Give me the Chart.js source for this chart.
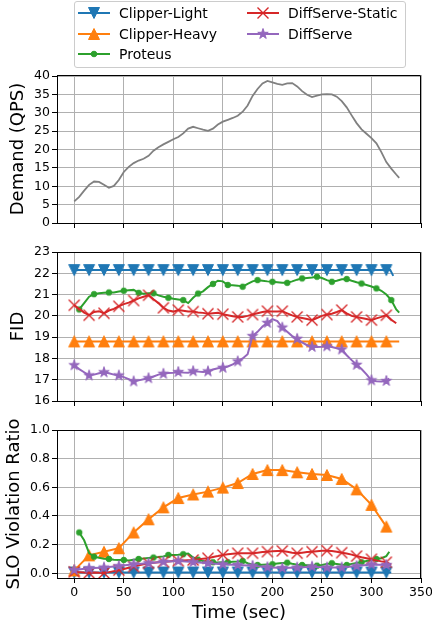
<!DOCTYPE html>
<html>
<head>
<meta charset="utf-8">
<script src="https://cdn.jsdelivr.net/npm/chart.js@4.4.1/dist/chart.umd.min.js"></script>
<style>
html, body { margin: 0; padding: 0; background: #fff; }
#wrap { position: relative; width: 432px; height: 626px; overflow: hidden; font-family: "DejaVu Sans", sans-serif; }
#wrap canvas.plot { position: absolute; left: 0; top: 0; }
#legend { position: absolute; left: 74px; top: 1px; width: 330px; height: 65px; border: 1px solid #cccccc; border-radius: 3px; background: #fff; }
.item { position: absolute; height: 20px; display: flex; align-items: center; font-size: 14px; color: #000; white-space: nowrap; }
.item canvas { margin-right: 9px; }
</style>
</head>
<body>
<div id="wrap">
  <canvas id="demand" class="plot" width="432" height="626"></canvas>
  <canvas id="fid" class="plot" width="432" height="626"></canvas>
  <canvas id="slo" class="plot" width="432" height="626"></canvas>
  <div id="legend"></div>
</div>
<script>
// ---- data ----
const timeTicks = [0, 50, 100, 150, 200, 250, 300, 350];

// top panel: demand
const demandTicks = [0, 5, 10, 15, 20, 25, 30, 35, 40];
const demandTime = [0, 5, 10, 15, 20, 25, 30, 35, 40, 45, 50, 55, 60, 65, 70, 75, 80, 85, 90, 95,
  100, 105, 110, 115, 120, 125, 130, 135, 140, 145, 150, 155, 160, 165, 170, 175, 180, 185, 190, 195,
  200, 205, 210, 215, 220, 225, 230, 235, 240, 245, 250, 255, 260, 265, 270, 275, 280, 285, 290, 295,
  300, 305, 310, 315, 320, 325, 328];
const demandQps = [5.9, 7.1, 8.8, 10.4, 11.3, 11.2, 10.4, 9.6, 10.1, 11.7, 13.9, 15.3, 16.3, 17.0, 17.5, 18.3, 19.7, 20.6, 21.4, 22.1,
  22.8, 23.4, 24.4, 25.7, 26.2, 25.8, 25.4, 25.1, 25.7, 26.8, 27.6, 28.1, 28.6, 29.2, 30.3, 32.0, 34.6, 36.5, 38.0, 38.7,
  38.3, 37.9, 37.6, 38.0, 38.1, 37.2, 35.9, 34.9, 34.3, 34.7, 35.0, 35.1, 35.0, 34.4, 33.2, 31.5, 29.3, 27.2, 25.5, 24.3,
  23.1, 21.7, 19.3, 16.6, 14.8, 13.2, 12.3];

// middle panel: FID
const fidTicks = [16, 17, 18, 19, 20, 21, 22, 23];
const lightFidTime = [0, 15, 30, 45, 60, 75, 90, 105, 120, 135, 150, 165, 180, 195, 210, 225, 240, 255, 270, 285, 300, 315, 319, 322];
const lightFid = [22.15, 22.15, 22.15, 22.15, 22.15, 22.15, 22.15, 22.15, 22.15, 22.15, 22.15, 22.15,
  22.15, 22.15, 22.15, 22.15, 22.15, 22.15, 22.15, 22.15, 22.15, 22.15, 22.15, 21.88];
const heavyFidTime = [0, 15, 30, 45, 60, 75, 90, 105, 120, 135, 150, 165, 180, 195, 210, 225, 240, 255, 270, 285, 300, 315, 328];
const heavyFid = [18.8, 18.8, 18.8, 18.8, 18.8, 18.8, 18.8, 18.8, 18.8, 18.8, 18.8, 18.8,
  18.8, 18.8, 18.8, 18.8, 18.8, 18.8, 18.8, 18.8, 18.8, 18.8, 18.8];
const proteusFidTime = [5, 10, 15, 20, 25, 30, 35, 40, 45, 50, 55, 60, 65, 70, 75, 80, 85, 90, 95, 100,
  105, 110, 115, 120, 125, 130, 135, 140, 145, 150, 155, 160, 165, 170, 175, 180, 185, 190, 195, 200,
  205, 210, 215, 220, 225, 230, 235, 240, 245, 250, 255, 260, 265, 270, 275, 280, 285, 290, 295, 300,
  305, 310, 315, 320, 325, 328];
const proteusFid = [20.30, 20.60, 20.90, 21.02, 21.06, 21.08, 21.10, 21.10, 21.14, 21.18, 21.20, 21.22, 21.08, 21.04, 21.06, 21.06, 20.96, 20.90, 20.85, 20.80,
  20.77, 20.74, 20.60, 20.85, 21.05, 21.15, 21.35, 21.50, 21.65, 21.62, 21.45, 21.44, 21.42, 21.37, 21.50, 21.62, 21.68, 21.65, 21.62, 21.60,
  21.58, 21.55, 21.55, 21.62, 21.70, 21.76, 21.78, 21.80, 21.84, 21.78, 21.68, 21.60, 21.65, 21.72, 21.73, 21.65, 21.58, 21.52, 21.45, 21.38,
  21.29, 21.18, 21.00, 20.74, 20.30, 20.15];
const staticFidTime = [0, 5, 10, 15, 20, 25, 30, 35, 40, 45, 50, 55, 60, 65, 70, 75, 80, 85, 90, 95,
  100, 105, 110, 115, 120, 125, 130, 135, 140, 145, 150, 155, 160, 165, 170, 175, 180, 185, 190, 195,
  200, 205, 210, 215, 220, 225, 230, 235, 240, 245, 250, 255, 260, 265, 270, 275, 280, 285, 290, 295,
  300, 305, 310, 315, 320, 325];
const staticFid = [20.50, 20.33, 20.15, 20.03, 20.18, 20.22, 20.12, 20.25, 20.33, 20.45, 20.55, 20.62, 20.72, 20.82, 20.90, 20.97, 20.78, 20.60, 20.38, 20.25,
  20.20, 20.27, 20.24, 20.20, 20.20, 20.16, 20.14, 20.10, 20.12, 20.14, 20.08, 20.03, 19.98, 19.95, 19.95, 20.00, 20.06, 20.12, 20.18, 20.22,
  20.20, 20.20, 20.22, 20.12, 20.02, 19.95, 19.90, 19.85, 19.80, 19.90, 20.00, 20.06, 20.10, 20.18, 20.27, 20.12, 20.00, 19.95, 19.90, 19.85,
  19.80, 19.88, 19.95, 20.03, 19.82, 19.65];
const diffFidTime = [0, 5, 10, 15, 20, 25, 30, 35, 40, 45, 50, 55, 60, 65, 70, 75, 80, 85, 90, 95,
  100, 105, 110, 115, 120, 125, 130, 135, 140, 145, 150, 155, 160, 165, 170, 175, 180, 185, 190, 195,
  200, 205, 210, 215, 220, 225, 230, 235, 240, 245, 250, 255, 260, 265, 270, 275, 280, 285, 290, 295,
  300, 305, 310, 315, 318];
const diffFid = [17.68, 17.50, 17.35, 17.20, 17.24, 17.30, 17.35, 17.30, 17.24, 17.20, 17.12, 17.03, 16.92, 16.97, 17.02, 17.07, 17.15, 17.24, 17.28, 17.31,
  17.33, 17.36, 17.34, 17.33, 17.40, 17.38, 17.36, 17.39, 17.48, 17.54, 17.56, 17.62, 17.72, 17.86, 18.00, 18.20, 19.05, 19.25, 19.50, 19.67,
  19.85, 19.75, 19.45, 19.25, 19.05, 18.92, 18.75, 18.62, 18.54, 18.54, 18.55, 18.57, 18.54, 18.48, 18.42, 18.15, 17.92, 17.70, 17.50, 17.25,
  16.97, 16.93, 16.92, 16.94, 17.05];

// bottom panel: SLO violation ratio
const sloTicks = [0, 0.2, 0.4, 0.6, 0.8, 1.0];
const lightSloTime = [0, 15, 30, 45, 60, 75, 90, 105, 120, 135, 150, 165, 180, 195, 210, 225, 240, 255, 270, 285, 300, 315, 320];
const lightSlo = [0.005, 0.005, 0.005, 0.005, 0.005, 0.005, 0.005, 0.005, 0.005, 0.005, 0.005, 0.005,
  0.005, 0.005, 0.005, 0.005, 0.005, 0.005, 0.005, 0.005, 0.005, 0.005, 0.005];
const heavySloTime = [0, 15, 30, 45, 60, 75, 90, 105, 120, 135, 150, 165, 180, 195, 210, 225, 240, 255, 270, 285, 300, 315];
const heavySlo = [0.02, 0.125, 0.15, 0.175, 0.285, 0.377, 0.46, 0.525, 0.55, 0.57, 0.598, 0.63,
  0.693, 0.72, 0.72, 0.705, 0.693, 0.686, 0.658, 0.586, 0.477, 0.326];
const proteusSloTime = [5, 10, 15, 20, 25, 30, 35, 40, 45, 50, 55, 60, 65, 70, 75, 80, 85, 90, 95, 100,
  105, 110, 115, 120, 125, 130, 135, 140, 145, 150, 155, 160, 165, 170, 175, 180, 185, 190, 195, 200,
  205, 210, 215, 220, 225, 230, 235, 240, 245, 250, 255, 260, 265, 270, 275, 280, 285, 290, 295, 300,
  305, 310, 315, 318];
const proteusSlo = [0.285, 0.23, 0.14, 0.116, 0.108, 0.102, 0.1, 0.095, 0.093, 0.093, 0.09, 0.095, 0.1, 0.103, 0.107, 0.11, 0.113, 0.118, 0.128, 0.128,
  0.13, 0.133, 0.138, 0.11, 0.095, 0.085, 0.08, 0.077, 0.076, 0.077, 0.077, 0.08, 0.082, 0.086, 0.07, 0.06, 0.058, 0.06, 0.062, 0.063,
  0.068, 0.072, 0.074, 0.066, 0.06, 0.058, 0.056, 0.054, 0.053, 0.058, 0.065, 0.07, 0.065, 0.06, 0.058, 0.065, 0.072, 0.077, 0.085, 0.093,
  0.1, 0.105, 0.12, 0.15];
const staticSloTime = [0, 5, 10, 15, 20, 25, 30, 35, 40, 45, 50, 55, 60, 65, 70, 75, 80, 85, 90, 95,
  100, 105, 110, 115, 120, 125, 130, 135, 140, 145, 150, 155, 160, 165, 170, 175, 180, 185, 190, 195,
  200, 205, 210, 215, 220, 225, 230, 235, 240, 245, 250, 255, 260, 265, 270, 275, 280, 285, 290, 295,
  300, 305, 310, 315, 320];
const staticSlo = [0.01, 0.008, 0.005, 0.003, 0.005, 0.003, 0.002, 0.008, 0.015, 0.022, 0.03, 0.038, 0.046, 0.055, 0.063, 0.07, 0.074, 0.077, 0.08, 0.083,
  0.085, 0.087, 0.089, 0.091, 0.093, 0.097, 0.101, 0.105, 0.113, 0.12, 0.128, 0.132, 0.136, 0.14, 0.14, 0.14, 0.14, 0.144, 0.148, 0.151,
  0.153, 0.155, 0.156, 0.15, 0.144, 0.14, 0.144, 0.148, 0.151, 0.154, 0.157, 0.158, 0.155, 0.15, 0.144, 0.138, 0.13, 0.12, 0.112, 0.105,
  0.098, 0.09, 0.083, 0.077, 0.06];
const diffSloTime = [0, 15, 30, 45, 60, 75, 90, 105, 120, 135, 150, 165, 180, 195, 210, 225, 240, 255, 270, 285, 300, 315, 320];
const diffSlo = [0.023, 0.035, 0.04, 0.05, 0.063, 0.07, 0.08, 0.085, 0.078, 0.07, 0.063, 0.058,
  0.052, 0.042, 0.036, 0.04, 0.046, 0.04, 0.04, 0.05, 0.062, 0.058, 0.055];

// ---- styles ----
const seriesNames = ['Clipper-Light', 'Clipper-Heavy', 'Proteus', 'DiffServe-Static', 'DiffServe'];
const seriesColors = ['#1f77b4', '#ff7f0e', '#2ca02c', '#d62728', '#9467bd'];
const seriesMarkers = ['tri_down', 'tri_up', 'dot', 'x', 'star'];
const seriesFirstMark = [0, 0, 5, 0, 0];

const FONT = '"DejaVu Sans", sans-serif';
const AREA_L = 57, AREA_R = 421;
Chart.defaults.font.family = FONT;
Chart.defaults.color = '#000';

function drawMarker(g, shape, cx, cy, color) {
  const h = 5.5;
  g.save();
  g.fillStyle = color;
  g.strokeStyle = color;
  g.lineWidth = 1;
  g.beginPath();
  if (shape === 'tri_down') {
    g.moveTo(cx - h, cy - h); g.lineTo(cx + h, cy - h); g.lineTo(cx, cy + h); g.closePath();
    g.fill(); g.stroke();
  } else if (shape === 'tri_up') {
    g.moveTo(cx - h, cy + h); g.lineTo(cx + h, cy + h); g.lineTo(cx, cy - h); g.closePath();
    g.fill(); g.stroke();
  } else if (shape === 'dot') {
    g.arc(cx, cy, 2.8, 0, Math.PI * 2);
    g.fill(); g.stroke();
  } else if (shape === 'x') {
    g.lineWidth = 1.4;
    g.moveTo(cx - h, cy - h); g.lineTo(cx + h, cy + h);
    g.moveTo(cx + h, cy - h); g.lineTo(cx - h, cy + h);
    g.stroke();
  } else if (shape === 'star') {
    for (let k = 0; k < 10; k++) {
      const r = k % 2 ? h * 0.382 : h;
      const a = -Math.PI / 2 + k * Math.PI / 5;
      g.lineTo(cx + r * Math.cos(a), cy + r * Math.sin(a));
    }
    g.closePath();
    g.fill(); g.stroke();
  }
  g.restore();
}

function markerImage(i) {
  const c = document.createElement('canvas');
  c.width = 16; c.height = 16;
  drawMarker(c.getContext('2d'), seriesMarkers[i], 8, 8, seriesColors[i]);
  return c;
}

function series(i, times, values) {
  const t0 = seriesFirstMark[i];
  return {
    label: seriesNames[i],
    data: times.map((t, k) => ({ x: t, y: values[k] })),
    borderColor: seriesColors[i],
    backgroundColor: seriesColors[i],
    borderWidth: 2,
    tension: 0,
    pointStyle: markerImage(i),
    pointRadius: ctx => (ctx.raw && (ctx.raw.x - t0) % 15 === 0 ? 5 : 0),
    pointHoverRadius: 0,
    order: 4 - i
  };
}

// top and right spines
const frame = {
  id: 'frame',
  afterDraw(chart) {
    const a = chart.chartArea, g = chart.ctx;
    g.save();
    g.strokeStyle = '#000';
    g.lineWidth = 1;
    g.beginPath();
    g.moveTo(a.left, Math.round(a.top) + 0.5);
    g.lineTo(Math.round(a.right) - 0.5, Math.round(a.top) + 0.5);
    g.lineTo(Math.round(a.right) - 0.5, a.bottom);
    g.stroke();
    g.restore();
  }
};

function makeChart(id, o) {
  return new Chart(document.getElementById(id), {
    type: 'line',
    data: { datasets: o.datasets },
    options: {
      responsive: false,
      animation: false,
      events: [],
      layout: { padding: { left: 0, right: 432 - AREA_R, top: o.top, bottom: 626 - o.bottom - o.xHeight } },
      plugins: { legend: { display: false }, tooltip: { enabled: false } },
      scales: {
        x: {
          type: 'linear', min: -17.4, max: 350,
          afterBuildTicks: s => { s.ticks = timeTicks.map(v => ({ value: v })); },
          afterFit: s => { s.height = o.xHeight; s.paddingLeft = 0; s.paddingRight = 0; },
          ticks: { display: o.xLabels, autoSkip: false, maxRotation: 0, padding: 2, color: '#000', font: { size: 12.5 } },
          grid: { color: '#b0b0b0', lineWidth: 1, tickColor: '#000', tickLength: 5 },
          border: { color: '#000', width: 1 },
          title: { display: o.xLabels, text: 'Time (sec)', color: '#000', font: { size: 18 }, padding: { top: 0, bottom: 2 } }
        },
        y: {
          type: 'linear', min: o.yMin, max: o.yMax,
          afterBuildTicks: s => { s.ticks = o.yTicks.map(v => ({ value: v })); },
          afterFit: s => { s.width = AREA_L; },
          ticks: { autoSkip: false, padding: 2, color: '#000', font: { size: 12.5 }, callback: o.fmt },
          grid: { color: '#b0b0b0', lineWidth: 1, tickColor: '#000', tickLength: 5 },
          border: { color: '#000', width: 1 },
          title: { display: true, text: o.yTitle, color: '#000', font: { size: 18 }, padding: { top: o.titlePad, bottom: 0 } }
        }
      }
    },
    plugins: [frame]
  });
}

makeChart('demand', {
  top: 75, bottom: 223, xHeight: 5, xLabels: false,
  yMin: 0, yMax: 40.3, yTicks: demandTicks, fmt: v => String(v),
  yTitle: 'Demand (QPS)', titlePad: 8,
  datasets: [{
    label: 'Demand',
    data: demandTime.map((t, k) => ({ x: t, y: demandQps[k] })),
    borderColor: '#808080', borderWidth: 1.8, pointRadius: 0, tension: 0
  }]
});

makeChart('fid', {
  top: 252, bottom: 401, xHeight: 5, xLabels: false,
  yMin: 16, yMax: 23, yTicks: fidTicks, fmt: v => String(v),
  yTitle: 'FID', titlePad: 8,
  datasets: [
    series(0, lightFidTime, lightFid),
    series(1, heavyFidTime, heavyFid),
    series(2, proteusFidTime, proteusFid),
    series(3, staticFidTime, staticFid),
    series(4, diffFidTime, diffFid)
  ]
});

makeChart('slo', {
  top: 430, bottom: 578, xHeight: 48, xLabels: true,
  yMin: -0.033, yMax: 1.0, yTicks: sloTicks, fmt: v => v.toFixed(1),
  yTitle: 'SLO Violation Ratio', titlePad: 4,
  datasets: [
    series(0, lightSloTime, lightSlo),
    series(1, heavySloTime, heavySlo),
    series(2, proteusSloTime, proteusSlo),
    series(3, staticSloTime, staticSlo),
    series(4, diffSloTime, diffSlo)
  ]
});

// legend (two columns, matplotlib style)
function legendHandle(i) {
  const c = document.createElement('canvas');
  c.width = 32; c.height = 14;
  const g = c.getContext('2d');
  g.strokeStyle = seriesColors[i];
  g.lineWidth = 2;
  g.beginPath(); g.moveTo(0, 7); g.lineTo(32, 7); g.stroke();
  drawMarker(g, seriesMarkers[i], 16, 7, seriesColors[i]);
  return c;
}
const legendBox = document.getElementById('legend');
[[0, 1, 2], [3, 4]].forEach((col, c) => col.forEach((i, r) => {
  const item = document.createElement('div');
  item.className = 'item';
  item.style.left = (c ? 172 : 3) + 'px';
  item.style.top = (0.7 + r * 20.8) + 'px';
  item.appendChild(legendHandle(i));
  const label = document.createElement('span');
  label.textContent = seriesNames[i];
  item.appendChild(label);
  legendBox.appendChild(item);
}));
</script>
</body>
</html>
